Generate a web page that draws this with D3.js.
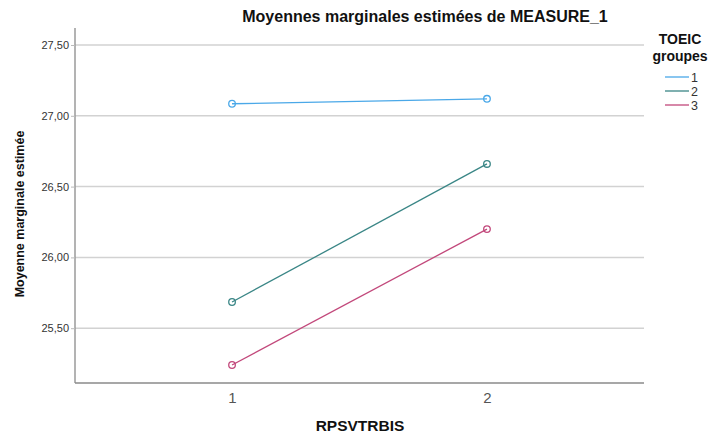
<!DOCTYPE html>
<html><head><meta charset="utf-8">
<script src="https://cdn.jsdelivr.net/npm/d3@7"></script>
<style>body{margin:0;background:#fff}svg{display:block}text{font-family:Arial,"Liberation Sans",sans-serif}</style>
</head><body><svg id="c" width="713" height="434"></svg>
<script>
const categories = ["1", "2"];
const groups = ["1", "2", "3"];
const group1 = [27.085, 27.12];
const group2 = [25.685, 26.66];
const group3 = [25.24, 26.20];
const yTicks = [25.5, 26.0, 26.5, 27.0, 27.5];
const colors = ["#4aa8e8", "#3a8686", "#c2487b"];
const series = [group1, group2, group3];

const svg = d3.select("#c");
const L = 75, R = 644, T = 28, B = 383;
const x = d3.scalePoint().domain(categories).range([L, R]).padding(0.616);
const y = d3.scaleLinear().domain([25.113, 27.62]).range([B, T]);
const fmt = d => d3.format(".2f")(d).replace(".", ",");

// gridlines
svg.append("g").selectAll("line").data(yTicks).join("line")
  .attr("x1", L).attr("x2", R).attr("y1", d => y(d)).attr("y2", d => y(d))
  .attr("stroke", "#d2d2d2").attr("stroke-width", 1.5);

// y axis
const ya = svg.append("g").attr("transform", `translate(${L},0)`)
  .call(d3.axisLeft(y).tickValues(yTicks).tickFormat(fmt).tickSize(4).tickPadding(2));
ya.select(".domain").attr("stroke", "#9a9a9a").attr("stroke-width", 1.5).attr("d", `M0,${T}V${B}`);
ya.selectAll(".tick line").attr("stroke", "#bbb");
ya.selectAll(".tick text").attr("font-size", 11).attr("fill", "#333").attr("font-family", "Arial, Liberation Sans, sans-serif");

// x axis
const xa = svg.append("g").attr("transform", `translate(0,${B})`)
  .call(d3.axisBottom(x).tickSize(0).tickPadding(9));
xa.select(".domain").attr("stroke", "#8a8a8a").attr("stroke-width", 1.5).attr("d", `M${L},0H${R}`);
xa.selectAll(".tick text").attr("font-size", 15).attr("fill", "#555").attr("font-family", "Arial, Liberation Sans, sans-serif");

// lines
const line = d3.line().x((d, i) => x(categories[i])).y(d => y(d));
series.forEach((s, k) => {
  svg.append("path").datum(s).attr("d", line).attr("fill", "none")
    .attr("stroke", colors[k]).attr("stroke-width", 1.3);
  svg.append("g").selectAll("circle").data(s).join("circle")
    .attr("cx", (d, i) => x(categories[i])).attr("cy", d => y(d)).attr("r", 3.3)
    .attr("fill", "none").attr("stroke", colors[k]).attr("stroke-width", 1.3);
});

// title
svg.append("text").attr("x", 425).attr("y", 22).attr("text-anchor", "middle")
  .attr("font-size", 16).attr("font-weight", "bold").attr("fill", "#111")
  .text("Moyennes marginales estimées de MEASURE_1");
// axis titles
svg.append("text").attr("x", 360).attr("y", 431).attr("text-anchor", "middle")
  .attr("font-size", 15.5).attr("font-weight", "bold").attr("fill", "#111").text("RPSVTRBIS");
svg.append("text").attr("transform", "translate(24,214) rotate(-90)").attr("text-anchor", "middle")
  .attr("font-size", 12.5).attr("font-weight", "bold").attr("fill", "#111").text("Moyenne marginale estimée");

// legend
svg.append("text").attr("x", 680).attr("y", 44).attr("text-anchor", "middle")
  .attr("font-size", 14).attr("font-weight", "bold").attr("fill", "#111").text("TOEIC");
svg.append("text").attr("x", 680).attr("y", 61).attr("text-anchor", "middle")
  .attr("font-size", 14).attr("font-weight", "bold").attr("fill", "#111").text("groupes");
const lg = svg.append("g").selectAll("g").data(groups).join("g")
  .attr("transform", (d, i) => `translate(665,${77 + i * 14})`);
lg.append("line").attr("x1", 0).attr("x2", 24).attr("stroke", (d, i) => colors[i]).attr("stroke-width", 1.3);
lg.append("text").attr("x", 26).attr("y", 4.5).attr("font-size", 12.5).attr("fill", "#333").text(d => d);
</script></body></html>
